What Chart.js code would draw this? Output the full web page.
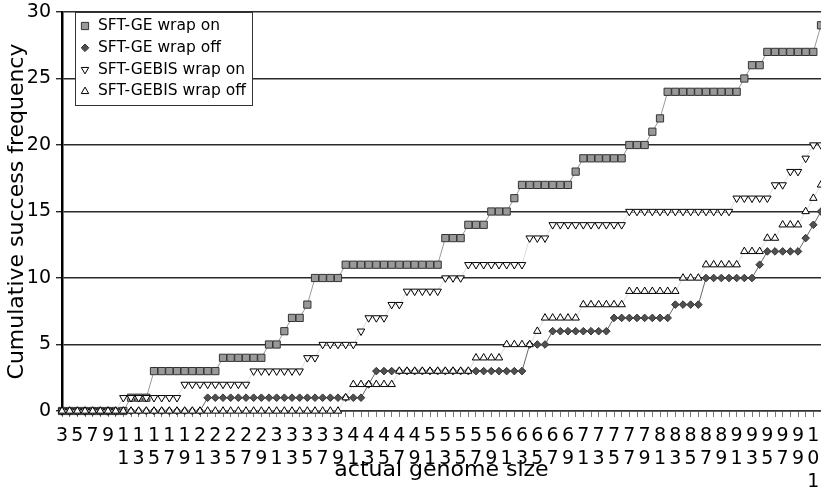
<!DOCTYPE html>
<html>
<head>
<meta charset="utf-8">
<title>Cumulative success frequency</title>
<script src="https://cdn.jsdelivr.net/npm/chart.js@4"></script>
<style>
	body { margin: 0; background: #fff; }
	#wrap { width: 821px; height: 490px; }
</style>
</head>
<body>
<div id="wrap"><canvas id="success-chart" width="821" height="490"></canvas></div>
<script>
const genomeSizes = [
	3, 4, 5, 6, 7, 8, 9, 10, 11, 12,
	13, 14, 15, 16, 17, 18, 19, 20, 21, 22,
	23, 24, 25, 26, 27, 28, 29, 30, 31, 32,
	33, 34, 35, 36, 37, 38, 39, 40, 41, 42,
	43, 44, 45, 46, 47, 48, 49, 50, 51, 52,
	53, 54, 55, 56, 57, 58, 59, 60, 61, 62,
	63, 64, 65, 66, 67, 68, 69, 70, 71, 72,
	73, 74, 75, 76, 77, 78, 79, 80, 81, 82,
	83, 84, 85, 86, 87, 88, 89, 90, 91, 92,
	93, 94, 95, 96, 97, 98, 99, 100, 101, 102
];

const geWrapOn = [
	0, 0, 0, 0, 0, 0, 0, 0, 0, 1,
	1, 1, 3, 3, 3, 3, 3, 3, 3, 3,
	3, 4, 4, 4, 4, 4, 4, 5, 5, 6,
	7, 7, 8, 10, 10, 10, 10, 11, 11, 11,
	11, 11, 11, 11, 11, 11, 11, 11, 11, 11,
	13, 13, 13, 14, 14, 14, 15, 15, 15, 16,
	17, 17, 17, 17, 17, 17, 17, 18, 19, 19,
	19, 19, 19, 19, 20, 20, 20, 21, 22, 24,
	24, 24, 24, 24, 24, 24, 24, 24, 24, 25,
	26, 26, 27, 27, 27, 27, 27, 27, 27, 29
];

const geWrapOff = [
	0, 0, 0, 0, 0, 0, 0, 0, 0, 0,
	0, 0, 0, 0, 0, 0, 0, 0, 0, 1,
	1, 1, 1, 1, 1, 1, 1, 1, 1, 1,
	1, 1, 1, 1, 1, 1, 1, 1, 1, 1,
	2, 3, 3, 3, 3, 3, 3, 3, 3, 3,
	3, 3, 3, 3, 3, 3, 3, 3, 3, 3,
	3, 5, 5, 5, 6, 6, 6, 6, 6, 6,
	6, 6, 7, 7, 7, 7, 7, 7, 7, 7,
	8, 8, 8, 8, 10, 10, 10, 10, 10, 10,
	10, 11, 12, 12, 12, 12, 12, 13, 14, 15
];

const gebisWrapOn = [
	0, 0, 0, 0, 0, 0, 0, 0, 1, 1,
	1, 1, 1, 1, 1, 1, 2, 2, 2, 2,
	2, 2, 2, 2, 2, 3, 3, 3, 3, 3,
	3, 3, 4, 4, 5, 5, 5, 5, 5, 6,
	7, 7, 7, 8, 8, 9, 9, 9, 9, 9,
	10, 10, 10, 11, 11, 11, 11, 11, 11, 11,
	11, 13, 13, 13, 14, 14, 14, 14, 14, 14,
	14, 14, 14, 14, 15, 15, 15, 15, 15, 15,
	15, 15, 15, 15, 15, 15, 15, 15, 16, 16,
	16, 16, 16, 17, 17, 18, 18, 19, 20, 20
];

const gebisWrapOff = [
	0, 0, 0, 0, 0, 0, 0, 0, 0, 0,
	0, 0, 0, 0, 0, 0, 0, 0, 0, 0,
	0, 0, 0, 0, 0, 0, 0, 0, 0, 0,
	0, 0, 0, 0, 0, 0, 0, 1, 2, 2,
	2, 2, 2, 2, 3, 3, 3, 3, 3, 3,
	3, 3, 3, 3, 4, 4, 4, 4, 5, 5,
	5, 5, 6, 7, 7, 7, 7, 7, 8, 8,
	8, 8, 8, 8, 9, 9, 9, 9, 9, 9,
	9, 10, 10, 10, 11, 11, 11, 11, 11, 12,
	12, 12, 13, 13, 14, 14, 14, 15, 16, 17
];

const fontFamily = "'DejaVu Sans', 'Liberation Sans', sans-serif";

// gnuplot-like key box in the top left corner of the plot
const keyBox =
{
	id: "keyBox",
	afterDraw(chart)
	{
		const ctx = chart.ctx;
		const left = 75, top = 12, width = 177, height = 93;

		ctx.save();
		ctx.fillStyle = "#fff";
		ctx.fillRect(left, top, width, height);
		ctx.strokeStyle = "#333";
		ctx.lineWidth = 1;
		ctx.strokeRect(left + 0.5, top + 0.5, width, height);

		ctx.font = `15.5px ${fontFamily}`;
		ctx.textBaseline = "middle";

		chart.data.datasets.forEach((ds, i) =>
		{
			const y = top + 14 + i * 21.8;

			ctx.fillStyle = ds.pointBackgroundColor;
			ctx.strokeStyle = ds.pointBorderColor;
			ctx.lineWidth = ds.pointBorderWidth;
			Chart.helpers.drawPoint(ctx, { pointStyle: ds.pointStyle, radius: ds.pointRadius, rotation: ds.pointRotation || 0, borderWidth: ds.pointBorderWidth }, 85, y);

			ctx.fillStyle = "#000";
			ctx.fillText(ds.label, 98, y);
		});

		ctx.restore();
	}
};

function series(label, data, style)
{
	return Object.assign({
		label,
		data,
		borderWidth: 1,
		tension: 0,
		pointBorderWidth: 1,
		pointHoverRadius: 0,
		clip: false
	}, style);
}

new Chart(document.getElementById("success-chart"),
{
	type: "line",
	data:
	{
		labels: genomeSizes,
		datasets:
		[
			series("SFT-GE wrap on", geWrapOn, { order: 4, borderColor: "#999", pointStyle: "rect", pointRadius: 5.1, pointBackgroundColor: "#999", pointBorderColor: "#333" }),
			series("SFT-GE wrap off", geWrapOff, { order: 3, borderColor: "#666", pointStyle: "rectRot", pointRadius: 3.8, pointBackgroundColor: "#505050", pointBorderColor: "#333" }),
			series("SFT-GEBIS wrap on", gebisWrapOn, { order: 2, borderColor: "#ddd", pointStyle: "triangle", pointRotation: 180, pointRadius: 4.3, pointBackgroundColor: "#fff", pointBorderColor: "#000" }),
			series("SFT-GEBIS wrap off", gebisWrapOff, { order: 1, borderColor: "#ddd", pointStyle: "triangle", pointRadius: 4.3, pointBackgroundColor: "#fff", pointBorderColor: "#000" })
		]
	},
	options:
	{
		responsive: false,
		animation: false,
		// plot runs right up to the right edge, markers there get cut off
		layout: { autoPadding: false, padding: { top: 12, right: 0, left: 0, bottom: 0 } },
		plugins: { legend: { display: false }, tooltip: { enabled: false } },
		scales:
		{
			x:
			{
				type: "category",
				afterFit: scale =>
				{
					scale.height = 79;
					scale.paddingLeft = 0;
					scale.paddingRight = 0;
				},
				grid: { drawOnChartArea: false, drawTicks: true, tickLength: 6, color: "#777", lineWidth: 1 },
				border: { color: "#333", width: 1.5 },
				ticks:
				{
					autoSkip: false,
					maxRotation: 0,
					minRotation: 0,
					padding: 7,
					color: "#000",
					font: { family: fontFamily, size: 19, lineHeight: 1.22 },
					// odd sizes only, digits stacked one per line
					callback: (value, index) => genomeSizes[index] % 2 ? String(genomeSizes[index]).split("") : ""
				},
				title: { display: true, text: "actual genome size", color: "#000", font: { family: fontFamily, size: 22 }, padding: { top: 0, bottom: 7 } }
			},
			y:
			{
				min: 0,
				max: 30,
				afterFit: scale =>
				{
					scale.width = 62;
					scale.paddingTop = 0;
					scale.paddingBottom = 0;
				},
				grid: { color: "#2a2a2a", lineWidth: 1.4, tickLength: 6 },
				border: { color: "#000", width: 2.5 },
				ticks: { stepSize: 5, padding: 5, color: "#000", font: { family: fontFamily, size: 19 } },
				title: { display: true, text: "Cumulative success frequency", color: "#000", font: { family: fontFamily, size: 22 }, padding: { top: 4, bottom: 0 } }
			}
		}
	},
	plugins: [ keyBox ]
});
</script>
</body>
</html>
